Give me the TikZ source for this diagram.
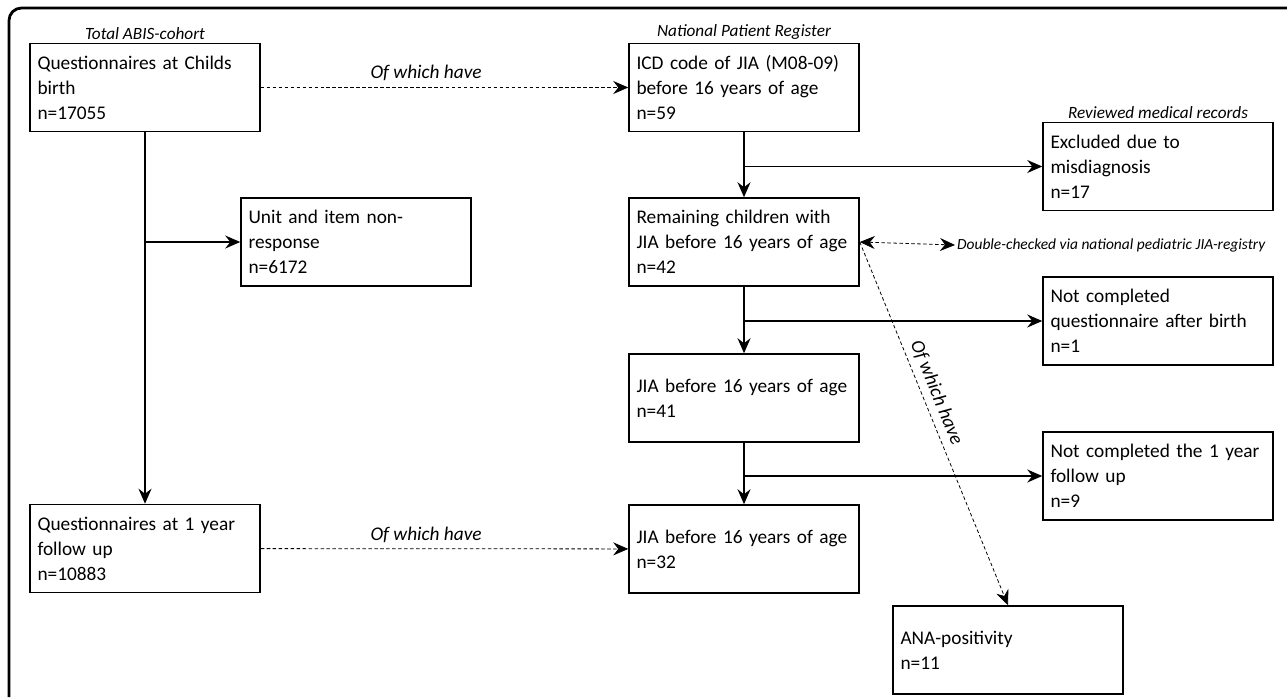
\documentclass[tikz,border=0pt]{standalone}
\usepackage{fontspec}
\setmainfont{Carlito}
\usetikzlibrary{arrows.meta}

\begin{document}
\begin{tikzpicture}[x=0.02cm,y=-0.02cm,
    box/.style={draw,line width=0.9pt,minimum width=4.6cm,minimum height=1.76cm,
        text width=4.3cm,align=left,inner xsep=0.15cm,inner ysep=0.12cm,
        font=\fontsize{11}{14.2}\selectfont},
    head/.style={above,inner sep=1.5pt,font=\itshape\fontsize{9.8}{11}\selectfont},
    arr/.style={-{Stealth[length=3mm,width=2.6mm,inset=1mm]},line width=0.7pt},
    dsh/.style={dash pattern=on 2pt off 1.4pt,line width=0.45pt},
    note/.style={font=\itshape\fontsize{11}{13}\selectfont}
]
            \useasboundingbox (0,0) rectangle (1287,697);
            \draw [line width=1.6pt,rounded corners=0.25cm] (9,697) -- (9,8) -- (1287,8);

            % left column
            \node[box] (Q0) at (145,87.5) {Questionnaires at Childs\\birth\\n=17055};
            \node[box] (NR) at (356,242) {Unit and item non-\\response\\n=6172};
            \node[box] (Q1) at (145,548.5) {Questionnaires at 1 year\\follow up\\n=10883};
            \node[head] (H1) at (Q0.north) {Total ABIS-cohort};

            % middle column
            \node[box] (ICD) at (744,87.5) {ICD code of JIA (M08-09)\\before 16 years of age\\n=59};
            \node[box] (REM) at (744,242) {Remaining children with\\JIA before 16 years of age\\n=42};
            \node[box] (J41) at (744,398) {JIA before 16 years of age\\n=41};
            \node[box] (J32) at (744,549) {JIA before 16 years of age\\n=32};
            \node[head] (H2) at (ICD.north) {National Patient Register};

            % right column
            \node[box] (EXC) at (1158,166.5) {Excluded due to\\misdiagnosis\\n=17};
            \node[box] (NC1) at (1158,321) {Not completed\\questionnaire after birth\\n=1};
            \node[box] (NC2) at (1158,476) {Not completed the 1 year\\follow up\\n=9};
            \node[box] (ANA) at (1008,650) {ANA-positivity\\n=11};
            \node[head] (H3) at (EXC.north) {Reviewed medical records};
            \node[anchor=west,inner sep=1pt,font=\itshape\fontsize{8.8}{10}\selectfont] (DC) at (955,245) {Double-checked via national pediatric JIA-registry};

            % branch points
            \coordinate (s1) at (Q0.south |- NR.west);
            \coordinate (s2) at (ICD.south |- EXC.west);
            \coordinate (s3) at (REM.south |- NC1.west);
            \coordinate (s4) at (J41.south |- NC2.west);

            \draw [arr] (Q0) -- (Q1);
            \draw [arr] (s1) -- (NR);
            \draw [arr] (ICD) -- (REM);
            \draw [arr] (s2) -- (EXC);
            \draw [arr] (REM) -- (J41);
            \draw [arr] (s3) -- (NC1);
            \draw [arr] (J41) -- (J32);
            \draw [arr] (s4) -- (NC2);

            \draw [dsh,arr,line width=0.45pt] (Q0) -- (ICD) node[pos=0.45,above,note] {Of which have};
            \draw [dsh,arr,line width=0.45pt] (Q1) -- (J32) node[pos=0.45,above,note] {Of which have};
            \draw [dsh,line width=0.45pt,{Stealth[length=3mm,width=2.6mm,inset=1mm]}-{Stealth[length=3mm,width=2.6mm,inset=1mm]}] (REM.east) -- (DC.west);
            \draw [dsh,arr,line width=0.45pt] (REM.east) -- (ANA.north) node[pos=0.43,sloped,above,note] {Of which have};
        \end{tikzpicture}
\end{document}
